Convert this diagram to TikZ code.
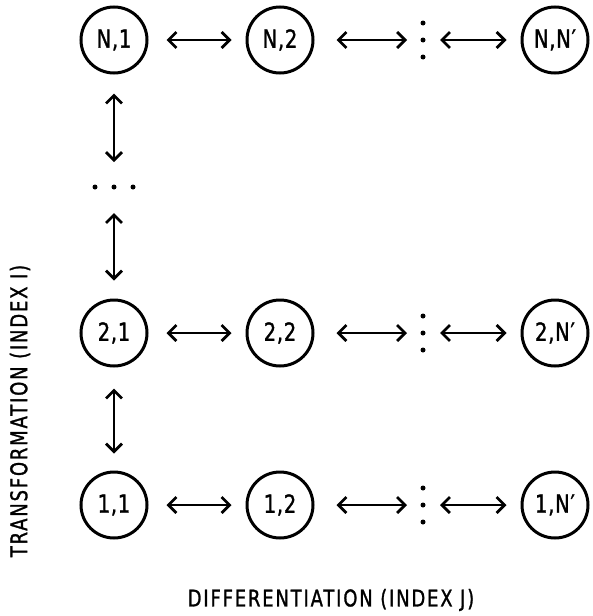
\documentclass[tikz,border=0pt]{standalone}
\usepackage{fontspec}
\setmainfont{DejaVu Sans}[FakeStretch=0.8]
\newfontfamily\plotfont{DejaVu Sans}[FakeStretch=0.78,FakeBold=1.2,LetterSpace=8]
\newfontfamily\circfont{DejaVu Sans}[FakeStretch=0.78,FakeBold=1.3,LetterSpace=3]
\usetikzlibrary{arrows.meta}
\begin{document}
\begin{tikzpicture}[x=1pt,y=-1pt,
  state/.style={circle,draw,line width=3pt,minimum size=66pt,inner sep=0pt,
    font=\circfont\fontsize{25}{25}\selectfont},
  conn/.style={line width=2.8pt,{Straight Barb[length=8pt,width=16pt]}-{Straight Barb[length=8pt,width=16pt]}},
  dotm/.style={circle,fill,inner sep=0pt,minimum size=5pt},
  lab/.style={font=\plotfont\fontsize{23}{23}\selectfont}]
\useasboundingbox (0,0) rectangle (592,616);
% nodes
\node[state] (N1) at (114,40) {N,1};
\node[state] (N2) at (280,40) {N,2};
\node[state] (NN) at (555,40) {N,N′};
\node[state] (21) at (114,333) {2,1};
\node[state] (22) at (280,333) {2,2};
\node[state] (2N) at (555,333) {2,N′};
\node[state] (11) at (114,505) {1,1};
\node[state] (12) at (280,505) {1,2};
\node[state] (1N) at (555,505) {1,N′};
% horizontal dot columns
\foreach \r/\y in {N/40,2/333,1/505}{
  \coordinate (d\r) at (423,\y);
  \node[dotm] at (423,\y-17) {};
  \node[dotm] at (423,\y) {};
  \node[dotm] at (423,\y+17) {};
}
% vertical dots
\coordinate (vd) at (114,187);
\node[dotm] at (95,187) {};
\node[dotm] at (114,187) {};
\node[dotm] at (133,187) {};
% horizontal connectors
\foreach \r in {N,2,1}{
  \draw[conn,shorten <=18pt,shorten >=14pt] (\r1) -- (\r2);
}
\draw[conn,shorten <=22pt,shorten >=16pt] (N2) -- (dN);
\draw[conn,shorten <=22pt,shorten >=16pt] (22) -- (d2);
\draw[conn,shorten <=22pt,shorten >=16pt] (12) -- (d1);
\draw[conn,shorten <=17pt,shorten >=14pt] (dN) -- (NN);
\draw[conn,shorten <=17pt,shorten >=14pt] (d2) -- (2N);
\draw[conn,shorten <=17pt,shorten >=14pt] (d1) -- (1N);
% vertical connectors
\draw[conn,shorten <=19pt,shorten >=25pt] (N1) -- (vd);
\draw[conn,shorten <=26pt,shorten >=18pt] (vd) -- (21);
\draw[conn,shorten <=21pt,shorten >=17pt] (21) -- (11);
% axis labels
\node[lab] (xl) at (331,600) {DIFFERENTIATION (INDEX J)};
\node[lab,rotate=90] (yl) at (20,411) {TRANSFORMATION (INDEX I)};
\end{tikzpicture}
\end{document}
